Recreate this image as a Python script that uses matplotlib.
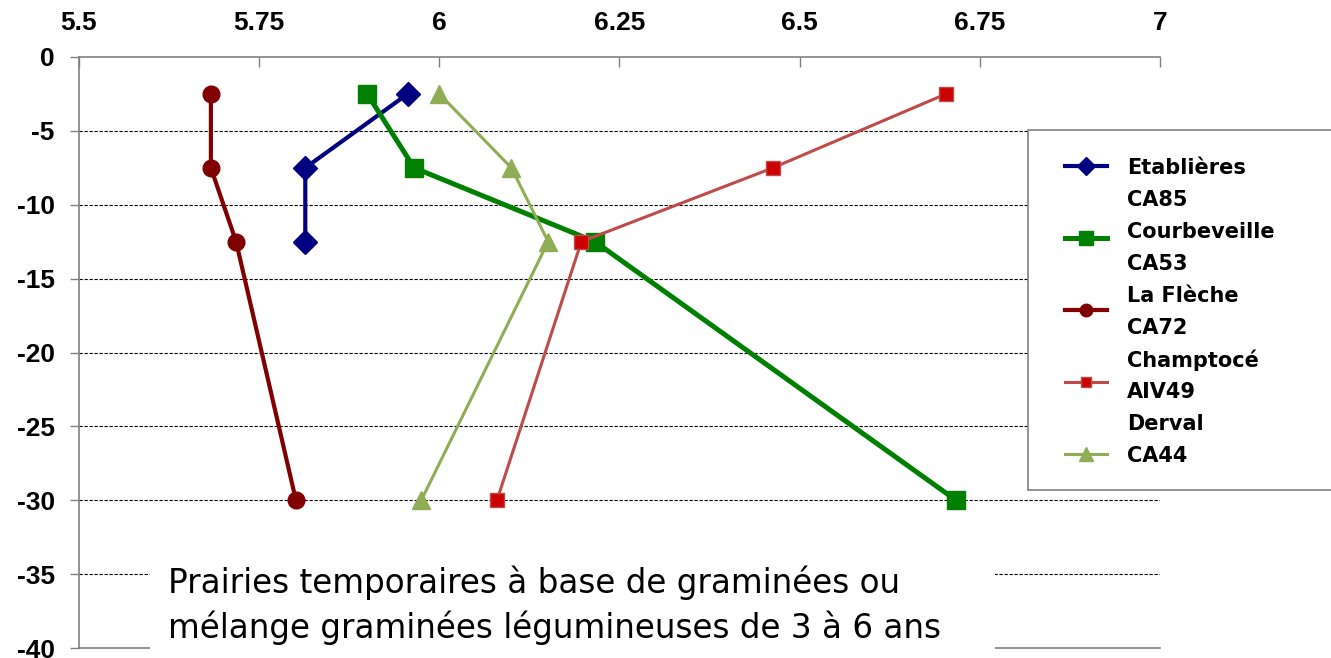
import matplotlib
matplotlib.use("Agg")
import matplotlib.pyplot as plt
from matplotlib.lines import Line2D
from matplotlib.patches import Rectangle
from matplotlib.font_manager import FontProperties

# Soil depth (cm) and measured values per site
depths = [-2.5, -7.5, -12.5, -30]
etablieres = [5.956, 5.814, 5.814, None]
courbeveille = [5.90, 5.965, 6.216, 6.717]
la_fleche = [5.683, 5.683, 5.718, 5.801]
champtoce = [6.703, 6.463, 6.197, 6.080]
derval = [6.00, 6.10, 6.151, 5.975]

labels = ["Etablières\nCA85", "Courbeveille\nCA53", "La Flèche\nCA72",
          "Champtocé\nAIV49", "Derval\nCA44"]
x_ticks = [5.5, 5.75, 6, 6.25, 6.5, 6.75, 7]
x_tick_labels = ["5.5", "5.75", "6", "6.25", "6.5", "6.75", "7"]
y_ticks = [0, -5, -10, -15, -20, -25, -30, -35, -40]
caption = ["Prairies temporaires à base de graminées ou",
           "mélange graminées légumineuses de 3 à 6 ans"]

styles = [
    dict(color="#000080", lw=3.0, marker="D", ms=12.5, mfc="#000080", mec="#000080"),
    dict(color="#008000", lw=3.6, marker="s", ms=13, mfc="#008000", mec="#008000"),
    dict(color="#800000", lw=3.0, marker="o", ms=12, mfc="#800000", mec="#800000"),
    dict(color="#BE4B48", lw=2.2, marker="s", ms=10, mfc="#CC0000", mec="#BE4B48"),
    dict(color="#8FAD55", lw=2.2, marker="^", ms=12.5, mfc="#8FAD55", mec="#8FAD55"),
]
series = [etablieres, courbeveille, la_fleche, champtoce, derval]

W, H = 1331, 658
fig = plt.figure(figsize=(W / 100, H / 100), dpi=100)
fx = lambda x: x / W
fy = lambda y: 1 - y / H

ax = fig.add_axes([fx(79), fy(648), fx(1160) - fx(79), fy(57) - fy(648)])
ax.set_xlim(5.5, 7)
ax.set_ylim(-40, 0)

for vals, st in zip(series, styles):
    xs = [v for v in vals if v is not None]
    ys = [d for v, d in zip(vals, depths) if v is not None]
    ax.plot(xs, ys, solid_joinstyle="round", clip_on=False, zorder=3, **st)

# Dashed horizontal gridlines
for yv in y_ticks[1:-1]:
    ax.axhline(yv, color="black", lw=0.8, ls=(0, (3, 1.5)), zorder=1)

ax.xaxis.tick_top()
ax.set_xticks(x_ticks)
ax.set_xticklabels(x_tick_labels)
ax.set_yticks(y_ticks)
ax.set_yticklabels([str(v) for v in y_ticks])
tick_font = FontProperties(family="Liberation Sans", weight="bold", size=19)
for lab in ax.get_xticklabels() + ax.get_yticklabels():
    lab.set_fontproperties(tick_font)
ax.tick_params(axis="x", direction="in", length=7, width=1, color="#808080", pad=16)
ax.tick_params(axis="y", direction="out", length=6.5, width=1, color="#808080", pad=11)

ax.spines["right"].set_visible(False)
for s in ("left", "top", "bottom"):
    ax.spines[s].set_color("#808080")
    ax.spines[s].set_linewidth(1.2)

# Legend drawn on the figure
fig.add_artist(Rectangle((fx(1028), fy(490)), fx(1345) - fx(1028), fy(130) - fy(490),
                         transform=fig.transFigure, facecolor="white",
                         edgecolor="#808080", lw=1.2, zorder=5))
handle_y = [166, 238, 310, 382, 454]
for st, hy in zip(styles, handle_y):
    ms = st["ms"] * 0.75
    fig.add_artist(Line2D([fx(1065), fx(1107)], [fy(hy), fy(hy)],
                          transform=fig.transFigure, zorder=6,
                          color=st["color"], lw=st["lw"]))
    fig.add_artist(Line2D([fx(1086)], [fy(hy)], transform=fig.transFigure, zorder=7,
                          ls="none", marker=st["marker"], ms=ms,
                          mfc=st["mfc"], mec=st["mec"]))
lines = [ln for lab in labels for ln in lab.split("\n")]
for j, ln in enumerate(lines):
    fig.text(fx(1127), fy(168 + 32 * j), ln, ha="left", va="center",
             family="DejaVu Sans", weight="bold", size=15, zorder=8)

# Caption box
fig.add_artist(Rectangle((fx(150), fy(670)), fx(995) - fx(150), fy(557) - fy(670),
                         transform=fig.transFigure, facecolor="white",
                         edgecolor="none", zorder=9))
for j, ln in enumerate(caption):
    fig.text(fx(168), fy(583 + 45 * j), ln, ha="left", va="center",
             family="DejaVu Sans", size=23.5, zorder=10)

fig.savefig("out.png", dpi=100)
